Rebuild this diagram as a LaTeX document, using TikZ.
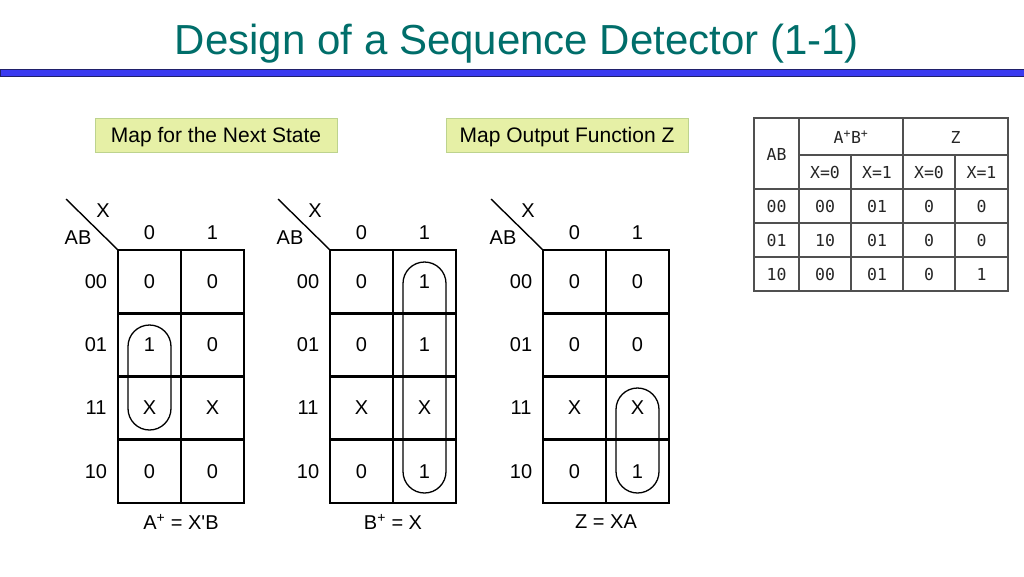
\documentclass[tikz,border=0pt]{standalone}
\usepackage{fontspec}
\setmainfont{Liberation Sans}
\newfontfamily\plainsans{Liberation Sans}
\newfontfamily\monof{DejaVu Sans Mono}
\definecolor{titlecol}{HTML}{006E6A}
\definecolor{barblue}{HTML}{3A3AF0}
\definecolor{baredge}{HTML}{20206A}
\definecolor{boxfill}{HTML}{E6F0A6}
\definecolor{boxedge}{HTML}{BDD38E}
\definecolor{tabline}{HTML}{505050}
\tikzset{
  titletext/.style={font=\fontsize{42}{48}\selectfont, text=titlecol, anchor=base, inner sep=0},
  mapbox/.style={draw=boxedge, fill=boxfill, line width=1pt, minimum width=242, minimum height=34, inner sep=0, text depth=0pt, font=\fontsize{21}{24}\selectfont},
  lbl/.style={font=\fontsize{20}{24}\selectfont, inner sep=0},
  gridline/.style={line width=2.6pt, black},
  diagline/.style={line width=1.4pt, black},
  ovalline/.style={line width=1.3pt, black},
  tab/.style={line width=1.1pt, tabline},
  ttxt/.style={font=\monof\fontsize{16.5}{19}\selectfont, inner sep=0, text=black!85},
}
\newcommand{\kgrid}[2]{%
  \draw[gridline] (#2,250) rectangle ++(126,253);
  \draw[gridline] (#2+63,250) -- ++(0,253);
  \foreach \k in {1,2,3} \draw[gridline] (#2,250+63.25*\k) -- ++(126,0);
  \coordinate (#1-corner) at (#2,250);
  \coordinate (#1-diag) at (#2-52,199);
  \draw[diagline] (#1-diag) -- (#1-corner);
  \node[lbl] (#1-x) at (#2-15,211) {X};
  \node[lbl] (#1-ab) at (#2-40,238) {AB};
  \node[lbl] (#1-h0) at (#2+31.5,233) {0};
  \node[lbl] (#1-h1) at (#2+94.5,233) {1};
  \foreach \r [count=\i from 0] in {00,01,11,10}
    \node[lbl] (#1-r\i) at (#2-22,281.6+63.25*\i) {\r};
}
% vertical loop: x-left, y-top, x-right, y-bottom
\newcommand{\vloop}[4]{%
  \pgfmathsetmacro{\rr}{(#3-#1)/2}%
  \draw[ovalline] (#1,#2+\rr) arc[start angle=180,end angle=360,radius=\rr]
     -- (#3,#4-\rr) arc[start angle=0,end angle=180,radius=\rr] -- cycle;
}
\begin{document}
\begin{tikzpicture}[x=1pt,y=-1pt]
\useasboundingbox (0,0) rectangle (1024,576);
\fill[white] (0,0) rectangle (1024,576);
% title
\node[titletext] (title) at (517,54) {Design of a Sequence Detector (1-1)};
\draw[fill=barblue, draw=baredge, line width=0.8pt] (0,69.5) rectangle (1024,76);
% map boxes
\node[mapbox] (box1) at (216,135) {Map for the Next State};
\node[mapbox] (box2) at (567,135) {Map Output Function Z};
% K-maps
\kgrid{ma}{118}
\kgrid{mb}{330}
\kgrid{mc}{543}
\foreach \a/\b [count=\i from 0] in {0/0,1/0,X/X,0/0} {
  \node[lbl] (ma-a\i) at (149.5,281.6+63.25*\i) {\a};
  \node[lbl] (ma-b\i) at (212.5,281.6+63.25*\i) {\b};
}
\foreach \a/\b [count=\i from 0] in {0/1,0/1,X/X,0/1} {
  \node[lbl] (mb-a\i) at (361.5,281.6+63.25*\i) {\a};
  \node[lbl] (mb-b\i) at (424.5,281.6+63.25*\i) {\b};
}
\foreach \a/\b [count=\i from 0] in {0/0,0/0,X/X,0/1} {
  \node[lbl] (mc-a\i) at (574.5,281.6+63.25*\i) {\a};
  \node[lbl] (mc-b\i) at (637.5,281.6+63.25*\i) {\b};
}
% loops
\vloop{128}{325}{171}{430}
\vloop{403}{262}{446}{493}
\vloop{616}{388}{659}{493}
% equations
\node[lbl] (eqa) at (181,522) {A\textsuperscript{+} = X{\plainsans'}B};
\node[lbl] (eqb) at (393,522) {B\textsuperscript{+} = X};
\node[lbl] (eqc) at (606,522) {Z = XA};
% table
\draw[tab] (754,118) rectangle (1008,291);
\draw[tab] (799,155) -- (1008,155);
\foreach \yy in {189,223,257} \draw[tab] (754,\yy) -- (1008,\yy);
\draw[tab] (799,118) -- (799,291);
\draw[tab] (903,118) -- (903,291);
\draw[tab] (851,155) -- (851,291);
\draw[tab] (955,155) -- (955,291);
\node[ttxt] (t-ab) at (776.5,154) {AB};
\node[ttxt] (t-ap) at (851,137) {A\textsuperscript{+}B\textsuperscript{+}};
\node[ttxt] (t-z) at (955.5,137) {Z};
\node[ttxt] (t-h1) at (825,172) {X=0};
\node[ttxt] (t-h2) at (877,172) {X=1};
\node[ttxt] (t-h3) at (929,172) {X=0};
\node[ttxt] (t-h4) at (981.5,172) {X=1};
\foreach \s/\p/\q/\u/\v [count=\i from 0] in {00/00/01/0/0,01/10/01/0/0,10/00/01/0/1} {
  \node[ttxt] (t-s\i) at (776.5,206+34*\i) {\s};
  \node[ttxt] (t-p\i) at (825,206+34*\i) {\p};
  \node[ttxt] (t-q\i) at (877,206+34*\i) {\q};
  \node[ttxt] (t-u\i) at (929,206+34*\i) {\u};
  \node[ttxt] (t-v\i) at (981.5,206+34*\i) {\v};
}
\end{tikzpicture}
\end{document}
